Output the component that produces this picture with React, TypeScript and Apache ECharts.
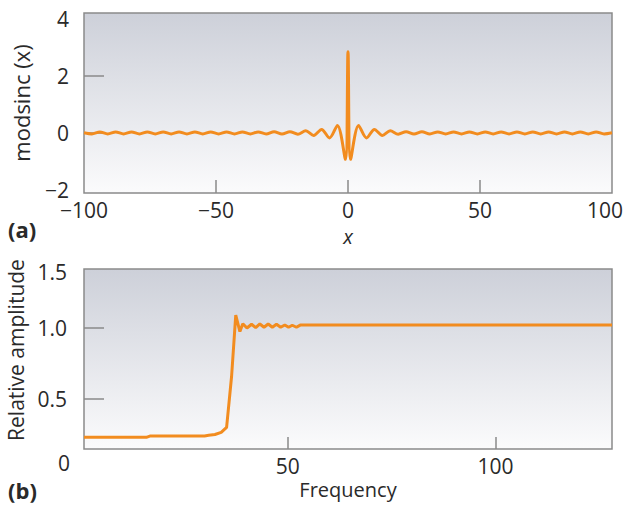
import React, { useEffect, useRef } from "react";
import * as echarts from "echarts";

// Panel (a): modsinc(x), read at the extremes of the curve
const topX = [
  -100, -97, -94, -91, -88, -85, -82, -79, -76, -73, -70, -67, -64, -61, -58, -55, -52, -49, -46, -43, -40, -37, -34, -31, -28, -25, -22, -19, -16, -13, -10, -7, -4, -1,
  0,
  1, 4, 7, 10, 13, 16, 19, 22, 25, 28, 31, 34, 37, 40, 43, 46, 49, 52, 55, 58, 61, 64, 67, 70, 73, 76, 79, 82, 85, 88, 91, 94, 97, 100,
];
const topY = [
  0.01, -0.03, 0.04, -0.03, 0.04, -0.03, 0.04, -0.03, 0.04, -0.03, 0.04, -0.03, 0.04, -0.03, 0.04, -0.03, 0.04, -0.03, 0.04, -0.03, 0.04, -0.03, 0.04, -0.03, 0.05, -0.03, 0.05, -0.04, 0.08, -0.08, 0.13, -0.17, 0.27, -0.92,
  2.85,
  -0.92, 0.27, -0.17, 0.13, -0.08, 0.08, -0.04, 0.05, -0.03, 0.05, -0.03, 0.04, -0.03, 0.04, -0.03, 0.04, -0.03, 0.04, -0.03, 0.04, -0.03, 0.04, -0.03, 0.04, -0.03, 0.04, -0.03, 0.04, -0.03, 0.04, -0.03, 0.04, -0.03, 0.01,
];

// Panel (b): relative amplitude vs frequency
const botX = [1, 16, 17, 30, 31, 32.5, 34, 35.3, 36.5, 37.5, 38.5, 39.2, 40.2, 41.3, 42.3, 43.3, 44.3, 45.3, 46.3, 47.3, 48.3, 49.3, 50.2, 51.1, 52.1, 53, 128];
const botY = [0.23, 0.23, 0.24, 0.24, 0.245, 0.25, 0.265, 0.3, 0.66, 1.09, 0.975, 1.03, 1.0, 1.026, 1.002, 1.028, 1.005, 1.028, 1.005, 1.026, 1.005, 1.021, 1.005, 1.019, 1.005, 1.02, 1.02];

const topXLabels = [-100, -50, 0, 50, 100];
const topXTicks = [-50, 0, 50];
const topYLabels = [-2, 0, 2, 4];
const topYTicks = [0, 2];
const botXLabels = [50, 100];
const botYLabels = [0.5, 1.0, 1.395];
const botYTicks = [0.5, 1.0];

const FONT = '"Open Sans", "Noto Sans", sans-serif';
const TXT = "#2a2a2a";
const AX = "#8a8a8a";
const ORANGE = "#f28c1f";

export default function App() {
  const ref = useRef<HTMLDivElement>(null);
  useEffect(() => {
    document.body.style.margin = "0";
    if (!ref.current) return;
    const chart = echarts.init(ref.current, null, { renderer: "svg" });
    const bg = () =>
      new echarts.graphic.LinearGradient(0, 0, 0, 1, [
        { offset: 0, color: "#cdd0d9" },
        { offset: 1, color: "#fbfbfc" },
      ]);
    const minus = (v: number) => String(v).replace("-", "\u2212");
    const tickStyle = { color: AX, width: 1.5 };
    const lbl = { fontSize: 21, color: TXT, fontFamily: FONT, lineHeight: 20 };
    const ylbl = { fontSize: 21, color: TXT, fontFamily: FONT, lineHeight: 16 };
    const option: any = {
      animation: false,
      textStyle: { fontFamily: FONT },
      grid: [
        { left: 84, top: 13, width: 528, height: 180, show: true, borderColor: AX, borderWidth: 1.5, backgroundColor: bg(), outerBoundsMode: "none", containLabel: false },
        { left: 84, top: 269, width: 528, height: 180, show: true, borderColor: AX, borderWidth: 1.5, backgroundColor: bg(), outerBoundsMode: "none", containLabel: false },
      ],
      xAxis: [
        {
          gridIndex: 0, type: "value", min: -100, max: 100, interval: 50,
          axisLine: { show: false, onZero: false },
          axisTick: { inside: true, length: 13, lineStyle: tickStyle, customValues: topXTicks },
          axisLabel: {
            ...lbl, margin: 7, customValues: topXLabels,
            formatter: (v: number) => (v === 100 ? "{r|100}" : minus(v)),
            rich: { r: { fontSize: 21, color: TXT, fontFamily: FONT, lineHeight: 20, padding: [0, 14, 0, 0] } },
          },
          splitLine: { show: false },
          name: "x", nameLocation: "middle", nameGap: 34,
          nameTextStyle: { fontStyle: "italic", fontSize: 20, color: TXT, fontFamily: FONT, lineHeight: 18 },
        },
        {
          gridIndex: 1, type: "value", min: 1, max: 128,
          axisLine: { show: false, onZero: false },
          axisTick: { inside: true, length: 12, lineStyle: tickStyle, customValues: botXLabels },
          axisLabel: { ...lbl, margin: 7, customValues: botXLabels },
          splitLine: { show: false },
          name: "Frequency", nameLocation: "middle", nameGap: 30,
          nameTextStyle: { fontSize: 20, color: TXT, fontFamily: FONT },
        },
      ],
      yAxis: [
        {
          gridIndex: 0, type: "value", min: -2.1, max: 4.21,
          axisLine: { show: false, onZero: false },
          axisTick: { inside: true, length: 20, lineStyle: tickStyle, customValues: topYTicks },
          axisLabel: { ...ylbl, margin: 15, customValues: topYLabels, formatter: minus },
          splitLine: { show: false },
          name: "modsinc (x)", nameLocation: "middle", nameGap: 52,
          nameTextStyle: { fontSize: 22, color: TXT, fontFamily: FONT },
        },
        {
          gridIndex: 1, type: "value", min: 0.148, max: 1.415,
          axisLine: { show: false, onZero: false },
          axisTick: { inside: true, length: 20, lineStyle: tickStyle, customValues: botYTicks },
          axisLabel: {
            ...ylbl, margin: 17, customValues: botYLabels,
            formatter: (v: number) => (v > 1.2 ? "1.5" : v.toFixed(1)),
          },
          splitLine: { show: false },
          name: "Relative amplitude", nameLocation: "middle", nameGap: 52,
          nameTextStyle: { fontSize: 21, color: TXT, fontFamily: FONT, padding: [0, 0, 0, 18] },
        },
      ],
      series: [
        {
          type: "line", xAxisIndex: 0, yAxisIndex: 0, showSymbol: false, smooth: 0.3,
          lineStyle: { color: ORANGE, width: 3 },
          data: topX.map((x, i) => [x, topY[i]]),
        },
        {
          type: "line", xAxisIndex: 1, yAxisIndex: 1, showSymbol: false,
          lineStyle: { color: ORANGE, width: 3 },
          data: botX.map((x, i) => [x, botY[i]]),
        },
      ],
      graphic: [
        { type: "text", left: 8, top: 218, style: { text: "(a)", font: `bold 22px ${FONT}`, fill: TXT } },
        { type: "text", left: 8, top: 479, style: { text: "(b)", font: `bold 22px ${FONT}`, fill: TXT } },
        { type: "text", left: 58, top: 452, style: { text: "0", font: `21px ${FONT}`, fill: TXT } },
      ],
    };
    chart.setOption(option);
    return () => chart.dispose();
  }, []);
  return <div ref={ref} style={{ width: 625, height: 506 }} />;
}
